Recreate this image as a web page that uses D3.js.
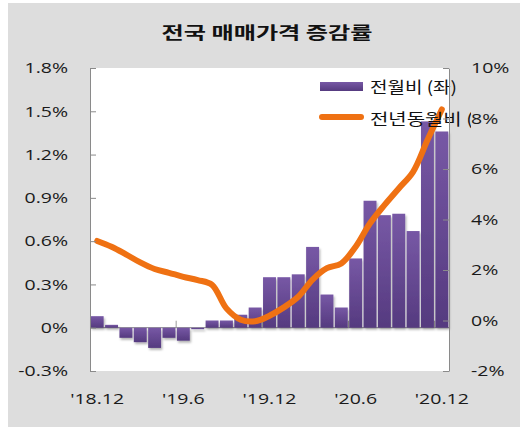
<!DOCTYPE html>
<html>
<head>
<meta charset="utf-8">
<script src="https://cdn.jsdelivr.net/npm/d3@7"></script>
<style>
  body { margin: 0; background: #fff; }
  svg { display: block; }
  .num { font-family: "Open Sans", "DejaVu Sans", sans-serif; font-size: 15px; fill: #1a1a1a; }
  .kr { font-family: "Noto Sans CJK KR", sans-serif; fill: #111; }
</style>
</head>
<body>
<div id="chart"></div>
<script>
// data
const months = ["'18.12", "'19.1", "'19.2", "'19.3", "'19.4", "'19.5", "'19.6", "'19.7", "'19.8",
  "'19.9", "'19.10", "'19.11", "'19.12", "'20.1", "'20.2", "'20.3", "'20.4", "'20.5", "'20.6",
  "'20.7", "'20.8", "'20.9", "'20.10", "'20.11", "'20.12"];
// 전월비 (%), left axis
const momValues = [0.08, 0.02, -0.07, -0.10, -0.14, -0.07, -0.09, -0.01, 0.05, 0.05, 0.09, 0.14,
  0.35, 0.35, 0.37, 0.56, 0.23, 0.14, 0.48, 0.88, 0.78, 0.79, 0.67, 1.43, 1.36];
// 전년동월비 (%), right axis
const yoyValues = [3.15, 2.92, 2.62, 2.30, 2.04, 1.89, 1.73, 1.60, 1.41, 0.48, 0.03, -0.03, 0.19,
  0.52, 0.94, 1.62, 2.07, 2.26, 2.92, 3.85, 4.57, 5.23, 5.89, 7.15, 8.36];

const leftTicks = [-0.3, 0, 0.3, 0.6, 0.9, 1.2, 1.5, 1.8];
const leftTickLabels = ["-0.3%", "0%", "0.3%", "0.6%", "0.9%", "1.2%", "1.5%", "1.8%"];
const rightTicks = [-2, 0, 2, 4, 6, 8, 10];
const rightTickLabels = ["-2%", "0%", "2%", "4%", "6%", "8%", "10%"];
const xTickMonths = ["'18.12", "'19.6", "'19.12", "'20.6", "'20.12"];

const titleText = "전국 매매가격 증감률";
const legendNames = ["전월비 (좌)", "전년동월비 (우)"];

const W = 520, H = 427;
const plot = { left: 90, right: 449, top: 68, bottom: 371 };
const SX = 1.3; // text in the picture is stretched sideways

const svg = d3.select("#chart").append("svg")
  .attr("width", W)
  .attr("height", H);

const defs = svg.append("defs");
const grad = defs.append("linearGradient").attr("id", "barGrad")
  .attr("x1", 0).attr("y1", 0).attr("x2", 0).attr("y2", 1);
grad.append("stop").attr("offset", "0%").attr("stop-color", "#7758a5");
grad.append("stop").attr("offset", "100%").attr("stop-color", "#553a7f");

const shadow = defs.append("filter").attr("id", "shadow")
  .attr("x", "-30%").attr("y", "-30%").attr("width", "160%").attr("height", "160%");
shadow.append("feDropShadow")
  .attr("dx", 1.2).attr("dy", 2).attr("stdDeviation", 1.1)
  .attr("flood-color", "#000").attr("flood-opacity", 0.3);

defs.append("clipPath").attr("id", "legClip")
  .append("rect").attr("x", 300).attr("y", 60).attr("width", 171).attr("height", 80);

// backgrounds
svg.append("rect").attr("width", W).attr("height", H).attr("fill", "#fff");
svg.append("rect").attr("x", 8).attr("y", 3).attr("width", W - 8).attr("height", H - 3).attr("fill", "#dddddd");
svg.append("rect")
  .attr("x", plot.left).attr("y", plot.top)
  .attr("width", plot.right - plot.left + 1).attr("height", plot.bottom - plot.top)
  .attr("fill", "#fff");

// scales
const x = d3.scaleBand().domain(months)
  .range([plot.left, plot.right])
  .paddingInner(0.1).paddingOuter(0.05);
const bw = x.bandwidth();
const step = x.step();
const yL = d3.scaleLinear().domain([-0.3, 1.8]).range([plot.bottom, plot.top]);
const yR = d3.scaleLinear().domain([-2, 10]).range([plot.bottom, plot.top]);

// zero line + x ticks
svg.append("line")
  .attr("x1", plot.left).attr("x2", plot.right)
  .attr("y1", yL(0)).attr("y2", yL(0))
  .attr("stroke", "#9a9a9a").attr("stroke-width", 1.2);
svg.append("g").selectAll("line")
  .data(xTickMonths.slice(1))
  .enter().append("line")
  .attr("x1", d => x(d) - (step - bw) / 2)
  .attr("x2", d => x(d) - (step - bw) / 2)
  .attr("y1", yL(0)).attr("y2", yL(0) - 7)
  .attr("stroke", "#9a9a9a");

// bars
svg.append("g").attr("filter", "url(#shadow)")
  .selectAll("rect")
  .data(momValues)
  .enter().append("rect")
  .attr("x", (d, i) => x(months[i]))
  .attr("width", bw)
  .attr("y", d => Math.min(yL(d), yL(0)))
  .attr("height", d => Math.max(1, Math.abs(yL(d) - yL(0))))
  .attr("fill", "url(#barGrad)");

// line
const line = d3.line()
  .x((d, i) => x(months[i]) + bw / 2)
  .y(d => yR(d))
  .curve(d3.curveCatmullRom.alpha(0.5));
svg.append("path")
  .datum(yoyValues)
  .attr("d", line)
  .attr("fill", "none")
  .attr("stroke", "#ef7113")
  .attr("stroke-width", 6)
  .attr("stroke-linecap", "round")
  .attr("stroke-linejoin", "round");

// legend
const leg = svg.append("g");
leg.append("rect")
  .attr("x", 320).attr("y", 82).attr("width", 43).attr("height", 9)
  .attr("fill", "url(#barGrad)");
leg.append("line")
  .attr("x1", 322).attr("x2", 361).attr("y1", 117).attr("y2", 117)
  .attr("stroke", "#ef7113").attr("stroke-width", 6).attr("stroke-linecap", "round");
leg.append("text").attr("class", "kr")
  .attr("x", 370).attr("y", 85.5)
  .attr("dominant-baseline", "central")
  .attr("font-size", 16)
  .attr("textLength", 87).attr("lengthAdjust", "spacingAndGlyphs")
  .text(legendNames[0]);
leg.append("text").attr("class", "kr")
  .attr("clip-path", "url(#legClip)")
  .attr("x", 370).attr("y", 117.5)
  .attr("dominant-baseline", "central")
  .attr("font-size", 16)
  .attr("textLength", 128).attr("lengthAdjust", "spacingAndGlyphs")
  .text(legendNames[1]);

// axes
function styleAxis(g, pad) {
  g.select(".domain").attr("stroke", "#8a8a8a");
  g.selectAll(".tick line").attr("stroke", "#8a8a8a");
  g.selectAll(".tick text")
    .attr("class", "num")
    .attr("transform", `scale(${SX},1)`)
    .attr("x", pad / SX);
}

const axL = svg.append("g")
  .attr("transform", `translate(${plot.left},0)`)
  .call(d3.axisLeft(yL)
    .tickValues(leftTicks)
    .tickFormat((d, i) => leftTickLabels[i])
    .tickSize(-6).tickSizeOuter(0).tickPadding(22));
styleAxis(axL, -22);

const axR = svg.append("g")
  .attr("transform", `translate(${plot.right},0)`)
  .call(d3.axisRight(yR)
    .tickValues(rightTicks)
    .tickFormat((d, i) => rightTickLabels[i])
    .tickSize(-6).tickSizeOuter(0).tickPadding(22));
styleAxis(axR, 22);

// x labels
svg.append("g").selectAll("text")
  .data(xTickMonths)
  .enter().append("text")
  .attr("class", "num")
  .attr("text-anchor", "middle")
  .attr("transform", d => `translate(${x(d) + bw / 2},404) scale(${SX},1)`)
  .text(d => d);

// title
svg.append("text").attr("class", "kr")
  .attr("x", 267).attr("y", 31.5)
  .attr("text-anchor", "middle")
  .attr("dominant-baseline", "central")
  .attr("font-size", 17).attr("font-weight", "bold")
  .attr("textLength", 211).attr("lengthAdjust", "spacingAndGlyphs")
  .text(titleText);
</script>
</body>
</html>
